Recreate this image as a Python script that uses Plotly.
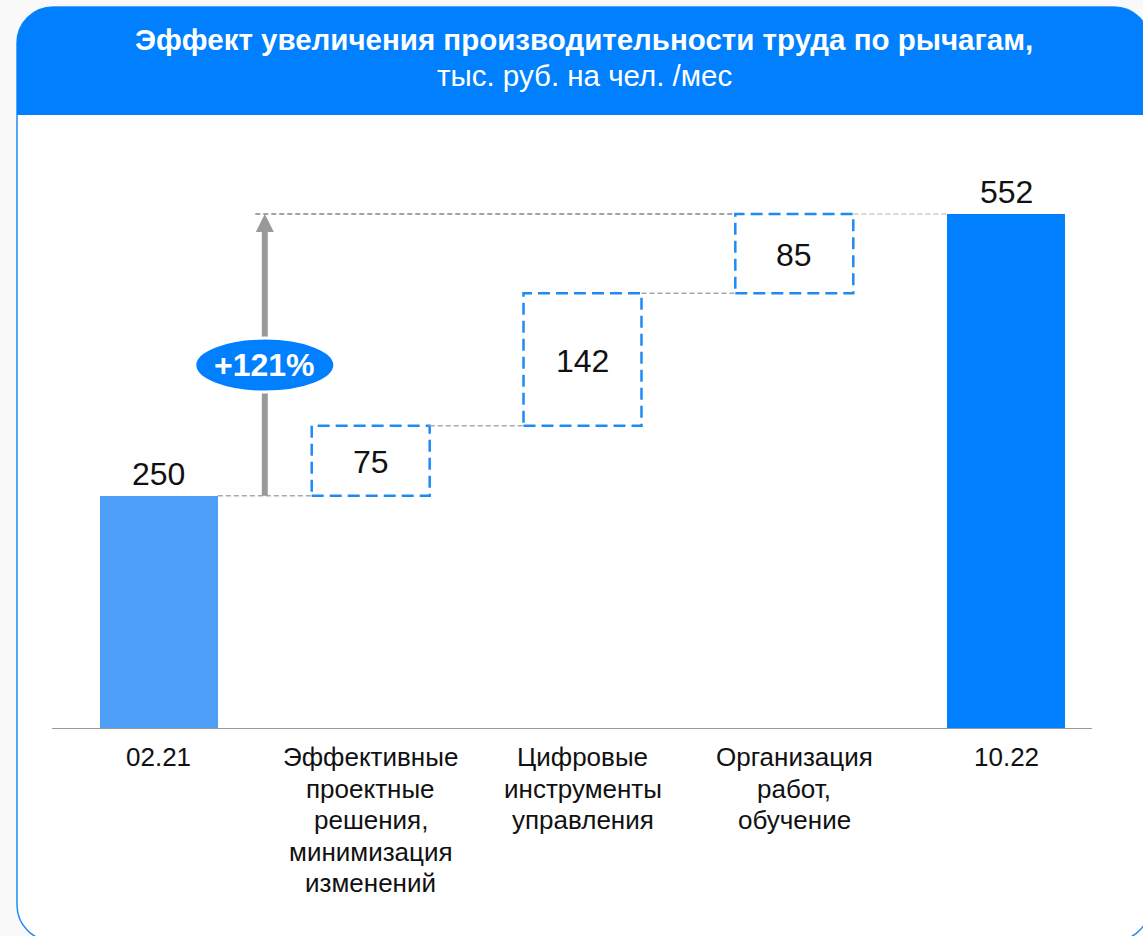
import plotly.graph_objects as go

# ---------------- data ----------------
categories = [
    "02.21",
    "Эффективные<br>проектные<br>решения,<br>минимизация<br>изменений",
    "Цифровые<br>инструменты<br>управления",
    "Организация<br>работ,<br>обучение",
    "10.22",
]
start_value = 250
step_values = [75, 142, 85]
end_value = 552
growth_label = "+121%"
title_line1 = "Эффект увеличения производительности труда по рычагам,"
title_line2 = "тыс. руб. на чел. /мес"

# ---------------- layout constants ----------------
FW, FH = 1143, 936
ML, MR, MT, MB = 53, 31, 130, 207
YMAX = 642
BW = 0.557
FONT = "Arial, Liberation Sans, sans-serif"
BLUE = "#0080FF"
LIGHT_BLUE = "#4C9EF7"
DASH_BLUE = "#1E8BF5"
TEXT = "#111111"

PW = FW - ML - MR
PH = FH - MT - MB


def px_x(px):
    return (px - ML) / PW


def px_y(py):
    return (FH - MB - py) / PH


fig = go.Figure()

# main bars
fig.add_trace(go.Bar(
    x=[0, 4], y=[start_value, end_value], width=BW,
    marker=dict(color=[LIGHT_BLUE, BLUE], line=dict(width=0)),
    hoverinfo="skip", showlegend=False,
))

shapes = []
annotations = []


def rounded_rect(x0, y0, x1, y1, r, top_only=False):
    k = 0.5523 * r
    X0, X1 = px_x(x0), px_x(x1)
    Y0, Y1 = px_y(y0), px_y(y1)
    def X(p): return px_x(p)
    def Y(p): return px_y(p)
    if top_only:
        path = (f"M {X0},{Y1} L {X0},{Y(y0 + r)} "
                f"C {X0},{Y(y0 + r - k)} {X(x0 + r - k)},{Y0} {X(x0 + r)},{Y0} "
                f"L {X(x1 - r)},{Y0} "
                f"C {X(x1 - r + k)},{Y0} {X1},{Y(y0 + r - k)} {X1},{Y(y0 + r)} "
                f"L {X1},{Y1} Z")
    else:
        path = (f"M {X0},{Y(y1 - r)} L {X0},{Y(y0 + r)} "
                f"C {X0},{Y(y0 + r - k)} {X(x0 + r - k)},{Y0} {X(x0 + r)},{Y0} "
                f"L {X(x1 - r)},{Y0} "
                f"C {X(x1 - r + k)},{Y0} {X1},{Y(y0 + r - k)} {X1},{Y(y0 + r)} "
                f"L {X1},{Y(y1 - r)} "
                f"C {X1},{Y(y1 - r + k)} {X(x1 - r + k)},{Y1} {X(x1 - r)},{Y1} "
                f"L {X(x0 + r)},{Y1} "
                f"C {X(x0 + r - k)},{Y1} {X0},{Y(y1 - r + k)} {X0},{Y(y1 - r)} Z")
    return path


# card + header
shapes.append(dict(type="path", xref="paper", yref="paper", layer="below",
                   path=rounded_rect(17, 7, 1150, 941, 36),
                   fillcolor="white", line=dict(color=DASH_BLUE, width=1.5)))
shapes.append(dict(type="path", xref="paper", yref="paper", layer="below",
                   path=rounded_rect(17, 7, 1150, 115, 36, top_only=True),
                   fillcolor=BLUE, line=dict(width=0)))

# axis baseline
shapes.append(dict(type="line", xref="paper", yref="y",
                   x0=px_x(52), x1=px_x(1092), y0=0, y1=0,
                   line=dict(color="#9a9a9a", width=2)))

# step boxes and connectors
hw = BW / 2
base = start_value
bases = []
for v in step_values:
    bases.append(base)
    base += v

conn_color = "#a8a8a8"
shapes.append(dict(type="line", xref="x", yref="y", x0=0 + hw, x1=1 - hw,
                   y0=start_value, y1=start_value,
                   line=dict(color=conn_color, width=1.5, dash="5px,3px")))
for i, v in enumerate(step_values):
    xi = i + 1
    b = bases[i]
    top = b + v
    shapes.append(dict(type="rect", xref="x", yref="y",
                       x0=xi - hw, x1=xi + hw, y0=b, y1=top,
                       fillcolor="rgba(0,0,0,0)",
                       line=dict(color=DASH_BLUE, width=2.5, dash="12px,6px")))
    annotations.append(dict(x=xi, y=b + v / 2, xref="x", yref="y",
                            text=str(v), showarrow=False, yshift=-1,
                            font=dict(family=FONT, size=32, color=TEXT)))
    if i < len(step_values) - 1:
        shapes.append(dict(type="line", xref="x", yref="y",
                           x0=xi + hw, x1=xi + 1 - hw, y0=top, y1=top,
                           line=dict(color=conn_color, width=1.5, dash="5px,3px")))

# top connectors
shapes.append(dict(type="line", xref="x", yref="y", x0=0.455, x1=3 - hw,
                   y0=end_value, y1=end_value,
                   line=dict(color="#858585", width=1.5, dash="5px,3px")))
shapes.append(dict(type="line", xref="x", yref="y", x0=3 + hw, x1=4 - hw,
                   y0=end_value, y1=end_value,
                   line=dict(color="#cccccc", width=1.5, dash="5px,3px")))

# growth arrow
ARROW_X = 0.5
shapes.append(dict(type="line", xref="x", yref="y",
                   x0=ARROW_X, x1=ARROW_X, y0=start_value, y1=end_value - 18,
                   line=dict(color="#999999", width=6)))
shapes.append(dict(type="path", xref="x", yref="y",
                   xsizemode="pixel", ysizemode="pixel",
                   xanchor=ARROW_X, yanchor=end_value,
                   path="M -9,-18 L 9,-18 L 0,0 Z",
                   fillcolor="#999999", line=dict(width=0)))
OVAL_Y = 390
shapes.append(dict(type="circle", xref="x", yref="y",
                   xsizemode="pixel", ysizemode="pixel",
                   xanchor=ARROW_X, yanchor=OVAL_Y,
                   x0=-70, x1=70, y0=-27, y1=27,
                   fillcolor=BLUE, line=dict(color="white", width=3)))
annotations.append(dict(x=ARROW_X, y=OVAL_Y, xref="x", yref="y",
                        text=f"<b>{growth_label}</b>", showarrow=False,
                        font=dict(family=FONT, size=32, color="white")))

# value labels for main bars
for xi, v in [(0, start_value), (4, end_value)]:
    annotations.append(dict(x=xi, y=v, xref="x", yref="y", text=str(v),
                            showarrow=False, yanchor="bottom", yshift=2,
                            font=dict(family=FONT, size=32, color=TEXT)))

# category labels (one annotation per line for tighter line spacing)
LINE_STEP = 31.6
FIRST_LINE = 28
for i, cat in enumerate(categories):
    for j, line in enumerate(cat.split("<br>")):
        annotations.append(dict(x=i, y=0, xref="x", yref="y", text=line,
                                showarrow=False, yanchor="middle",
                                yshift=-(FIRST_LINE + j * LINE_STEP),
                                font=dict(family=FONT, size=26, color=TEXT)))

# title
annotations.append(dict(x=px_x(584), y=px_y(40), xref="paper", yref="paper",
                        text=f"<b>{title_line1}</b>", showarrow=False,
                        xanchor="center", yanchor="middle",
                        font=dict(family=FONT, size=29.5, color="white")))
annotations.append(dict(x=px_x(584), y=px_y(76), xref="paper", yref="paper",
                        text=title_line2, showarrow=False,
                        xanchor="center", yanchor="middle",
                        font=dict(family=FONT, size=29.5, color="white")))

fig.update_layout(
    width=FW, height=FH,
    margin=dict(l=ML, r=MR, t=MT, b=MB, pad=0),
    paper_bgcolor="#f9f9f9", plot_bgcolor="rgba(0,0,0,0)",
    shapes=shapes, annotations=annotations,
    showlegend=False, bargap=0,
    xaxis=dict(range=[-0.5, 4.5], tickvals=list(range(5)),
               ticktext=[""] * len(categories),
               showgrid=False, zeroline=False, showline=False, ticks="",
               fixedrange=True),
    yaxis=dict(range=[0, YMAX], visible=False, fixedrange=True),
    font=dict(family=FONT),
)

fig.write_html("out.html", config={"displayModeBar": False},
               post_script="document.body.style.margin='0';document.body.style.background='#f9f9f9';")
